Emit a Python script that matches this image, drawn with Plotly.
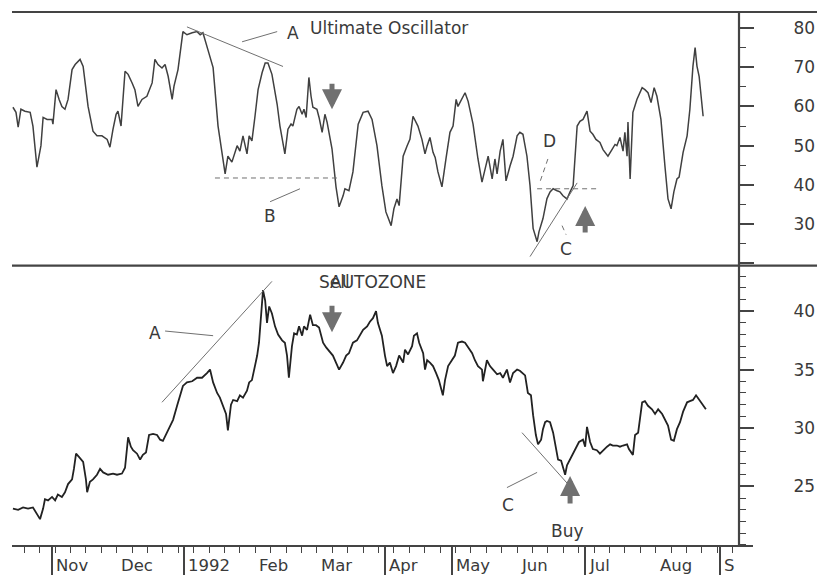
import plotly.graph_objects as go

# x = trading-day index (weekdays), 0 = 1 Nov 1991
uo_day = [-12.7, -11.7, -11.0, -10.1, -8.8, -7.1, -6.2, -4.9, -3.6, -2.9, -1.6, 0.0, 0.3, 1.3, 2.3, 3.2, 4.2, 5.2,
          6.5, 7.5, 9.1, 10.1, 11.7, 13.3, 14.6, 16.2, 17.9, 18.8, 19.8, 20.8, 21.4, 22.4, 23.7, 24.7, 26.0, 26.9,
          27.9, 29.2, 30.8, 32.5, 33.4, 34.4, 35.7, 36.7, 37.7, 39.0, 39.6, 40.9, 42.5, 43.8, 45.5, 47.1, 48.1,
          49.0, 50.6, 52.3, 53.9, 56.2, 57.1, 58.4, 60.1, 61.0, 62.0, 63.3, 64.0, 64.9, 65.9, 66.9, 68.2, 69.2,
          70.1, 71.4, 73.1, 74.0, 75.6, 76.6, 77.6, 78.2, 79.5, 80.2, 81.2, 81.8, 82.5, 83.4, 84.1, 84.7, 86.0,
          86.7, 87.7, 88.6, 89.3, 90.9, 92.2, 93.2, 94.5, 95.1, 96.4, 97.7, 99.4, 101.0, 102.6, 103.9, 105.5,
          107.1, 108.4, 110.1, 111.0, 112.0, 112.7, 114.0, 115.3, 116.2, 117.2, 118.2, 118.8, 120.1, 121.1,
          121.8, 122.7, 123.7, 124.4, 125.3, 126.6, 127.9, 129.2, 130.2, 131.2, 131.8, 133.1, 134.1, 135.1,
          136.7, 138.3, 139.6, 140.6, 141.6, 142.9, 143.8, 144.5, 145.5, 146.4, 147.4, 148.7, 149.7, 151.0,
          151.9, 152.9, 154.2, 155.2, 156.2, 157.5, 158.1, 159.4, 160.7, 161.7, 162.7, 164.0, 164.9, 165.9,
          167.2, 168.2, 169.2, 170.5, 171.4, 172.4, 173.7, 174.7, 175.6, 176.6, 177.9, 178.9, 180.5, 181.8,
          182.8, 183.4, 184.4, 185.4, 186.0, 186.7, 187.0, 187.7, 188.6, 189.9, 191.6, 192.5, 193.5, 194.5,
          195.5, 196.4, 197.7, 199.0, 200.0, 201.0, 201.9, 202.9, 203.6, 204.9, 206.2, 207.1, 208.1, 208.8,
          209.4, 210.1, 211.4]
uo_val = [59.8, 58.5, 54.7, 59.3, 58.8, 58.5, 55.0, 44.5, 50.0, 57.2, 56.7, 56.7, 55.5, 64.3, 61.8, 60.0, 59.3, 61.8,
          69.4, 70.7, 72.0, 70.2, 60.0, 53.7, 52.5, 52.5, 51.6, 49.6, 54.2, 58.0, 58.8, 55.0, 69.0, 68.2, 66.0, 64.3,
          60.0, 61.8, 62.6, 66.0, 72.0, 70.7, 69.8, 70.7, 67.7, 61.8, 65.2, 69.4, 79.1, 78.3, 78.8, 79.1, 78.3,
          78.8, 74.5, 69.9, 55.0, 42.8, 47.3, 45.8, 50.0, 48.6, 52.5, 47.9, 52.5, 51.2, 57.5, 64.3, 68.6, 71.1,
          71.1, 68.2, 60.5, 55.0, 47.9, 54.2, 55.5, 55.0, 59.3, 60.0, 58.0, 59.3, 57.2, 67.4, 62.6, 59.8, 59.3,
          57.2, 53.4, 58.0, 56.0, 49.2, 39.5, 34.4, 37.2, 39.0, 38.5, 43.3, 55.5, 58.5, 58.8, 56.7, 50.0,
          39.8, 33.1, 29.6, 33.9, 36.4, 34.7, 47.3, 50.0, 51.6, 57.5, 56.0, 55.0, 51.6, 47.9,
          50.0, 52.1, 48.3, 47.0, 43.3, 39.5, 46.6, 53.4, 55.0, 61.8, 60.0, 61.8, 63.5, 61.3,
          55.5, 46.6, 40.7, 44.0, 47.3, 41.5, 46.6, 42.8, 48.6, 51.6, 41.0, 44.8, 47.3, 52.5,
          53.4, 52.9, 47.3, 39.8, 28.9, 25.5, 28.0, 31.4, 36.5, 38.2, 39.0, 38.5, 38.2, 37.2,
          36.4, 38.2, 39.8, 55.0, 56.2, 56.7, 58.8, 53.7, 52.9, 51.6, 50.8, 49.0, 47.3, 49.0,
          50.3, 50.0, 52.1, 48.6, 53.4, 47.3, 56.0, 41.5, 58.5, 61.8, 64.8, 64.3, 63.5, 61.0,
          64.8, 62.6, 56.7, 44.8, 36.4, 33.9, 38.2, 41.5, 42.0, 48.3, 52.5, 59.3, 70.3, 75.0,
          70.3, 67.7, 57.5]

price_day = [-12.7, -11.0, -9.4, -7.8, -6.2, -4.9, -3.9, -2.9, -2.3, -1.3, 0.0, 1.0, 1.9, 3.2, 4.2, 5.2, 6.5, 7.1,
             7.8, 8.8, 10.1, 11.0, 11.4, 12.3, 13.3, 14.6, 15.6, 16.6, 18.2, 19.8, 21.1, 22.7, 23.7, 24.7, 25.6,
             26.3, 27.6, 28.6, 29.5, 30.5, 31.5, 32.8, 34.1, 35.1, 36.0, 37.3, 38.3, 39.3, 40.6, 41.6, 42.5, 43.8,
             45.5, 47.1, 48.7, 50.3, 51.3, 52.3, 53.6, 54.5, 55.5, 56.5, 57.1, 58.1, 58.8, 60.1, 61.0, 62.0, 63.3,
             64.0, 64.9, 65.6, 66.6, 67.2, 67.9, 68.5, 69.2, 69.8, 70.5, 71.4, 72.4, 73.4, 74.7, 75.6, 76.3, 76.9,
             77.9, 78.6, 79.5, 80.2, 81.2, 81.8, 82.8, 83.8, 84.7, 85.7, 86.7, 88.0, 89.0, 89.9, 91.2, 92.2, 93.2,
             94.5, 95.5, 96.4, 97.7, 99.0, 100.0, 101.0, 102.3, 103.2, 104.2, 105.2, 105.8, 107.1, 108.1, 108.8,
             109.7, 110.7, 111.7, 112.7, 114.0, 114.6, 115.6, 116.9, 117.5, 118.5, 119.2, 120.5, 121.1, 121.8,
             122.7, 123.7, 124.7, 125.6, 126.9, 127.6, 128.6, 129.9, 130.8, 131.8, 133.1, 134.1, 135.1, 136.4,
             137.3, 138.3, 139.6, 139.9, 141.2, 142.2, 143.2, 144.5, 145.5, 146.4, 147.7, 148.7, 149.7, 151.0,
             151.9, 153.6, 154.5, 155.5, 156.2, 157.1, 157.8, 158.8, 159.4, 160.1, 160.7, 161.7, 162.7, 163.6,
             164.3, 165.3, 165.9, 166.6, 167.2, 168.2, 169.2, 170.5, 171.1, 172.4, 173.1, 173.7, 174.7, 175.6,
             176.9, 177.9, 178.9, 180.2, 181.2, 182.1, 183.4, 184.4, 185.4, 186.7, 187.3, 188.6, 189.3, 190.3,
             191.6, 192.5, 193.5, 194.8, 195.8, 196.8, 198.1, 199.0, 200.0, 201.0, 201.9, 202.9, 203.9, 204.9,
             206.2, 207.1, 208.1, 209.1, 210.1, 211.4, 212.3]
price_val = [23.1, 23.0, 23.2, 23.1, 23.2, 22.6, 22.2, 23.1, 23.9, 23.8, 24.1, 23.8, 24.3, 24.1, 24.5, 25.2, 25.6, 26.5,
             27.8, 27.5, 27.1, 25.6, 24.5, 25.4, 25.6, 26.0, 26.5, 26.2, 26.0, 26.1, 26.0, 26.1, 26.6, 29.2, 28.4,
             28.1, 27.8, 27.3, 27.7, 27.9, 29.4, 29.5, 29.4, 29.0, 28.9, 29.6, 30.2, 30.7, 31.9, 32.9, 33.6, 33.9,
             34.0, 34.3, 34.3, 34.7, 35.0, 33.9, 33.0, 32.6, 31.9, 31.2, 29.8, 32.0, 32.4, 32.3, 32.8, 32.6, 33.2,
             33.9, 34.1, 35.0, 36.2, 37.3, 39.8, 41.8, 40.9, 39.0, 40.4, 39.8, 38.7, 38.0, 37.5, 37.3, 36.2, 34.3,
             37.0, 38.1, 38.0, 38.7, 37.9, 38.7, 38.4, 39.7, 38.8, 38.8, 38.6, 37.3, 36.9, 36.6, 36.2, 35.6, 35.0,
             35.6, 36.2, 36.4, 37.3, 37.5, 37.9, 38.4, 38.7, 39.1, 39.4, 40.0, 39.0, 37.9, 36.2, 35.3,
             35.6, 34.7, 35.3, 36.2, 35.6, 36.7, 36.3, 37.0, 37.9, 38.1, 37.3, 36.4, 35.0, 35.8,
             35.6, 35.3, 34.7, 34.1, 32.8, 34.1, 35.3, 35.8, 36.2, 37.3, 37.4, 37.3, 36.9, 36.4,
             35.8, 35.3, 35.0, 34.0, 35.8, 35.3, 35.0, 34.6, 34.7, 34.3, 35.0, 33.9, 34.7, 35.0,
             34.9, 34.5, 33.0, 32.8, 31.1, 29.4, 28.6, 29.0, 29.9, 30.5, 30.6, 30.5, 29.6, 28.4,
             27.3, 27.2, 26.6, 26.0, 26.8, 27.3, 27.8, 28.4, 28.8, 29.0, 28.4, 30.1, 28.8, 28.2,
             28.1, 27.8, 28.1, 28.4, 28.6, 28.5, 28.5, 28.4, 28.5, 28.6, 28.2, 27.7, 29.4, 29.6,
             32.2, 32.3, 31.9, 31.6, 31.2, 31.6, 31.2, 30.7, 30.2, 29.0, 28.9, 29.9, 30.5, 31.4,
             32.2, 32.3, 32.4, 32.8, 32.4, 31.9, 31.6]

month_days = [0, 21, 43, 66, 86, 108, 130, 151, 173, 196, 217]
month_labels = ["Nov", "Dec", "1992", "Feb", "Mar", "Apr", "May", "Jun", "Jul", "Aug", "S"]
uo_ticks = [20, 30, 40, 50, 60, 70, 80]
uo_tick_labels = ["", "30", "40", "50", "60", "70", "80"]
price_ticks = [25, 30, 35, 40]
price_tick_labels = ["25", "30", "35", "40"]

INK = "#3a3a3a"
AX = "#444444"
GR = "#707070"
FONT = "DejaVu Sans"
SPLIT = 0.5251

fig = go.Figure()
fig.add_trace(go.Scatter(x=uo_day, y=uo_val, yaxis="y2", mode="lines",
                         line=dict(color="#404040", width=1.5), showlegend=False))
fig.add_trace(go.Scatter(x=price_day, y=price_val, yaxis="y", mode="lines",
                         line=dict(color="#222222", width=1.8), showlegend=False))

yax = dict(side="right", anchor="x", showgrid=False, zeroline=False, showline=False,
           ticks="outside", ticklen=14, tickwidth=1.5, tickcolor=AX,
           tickfont=dict(family=FONT, size=17, color=INK), ticklabelstandoff=36,
           tickmode="array")

# page body has an 8px default margin: figure is offset by 8px
fig.update_layout(
    width=817, height=570,
    margin=dict(l=4, r=86, t=4, b=29),
    paper_bgcolor="white", plot_bgcolor="white",
    showlegend=False,
    xaxis=dict(domain=[0, 1], anchor="y", range=[-13, 223.05],
               showgrid=False, zeroline=False, showline=False,
               tickmode="array", tickvals=month_days, ticktext=[""] * len(month_days),
               ticks="outside", ticklen=28, tickwidth=1.8, tickcolor=AX, showticklabels=False,
               minor=dict(ticks="outside", ticklen=6, tickwidth=1.2, tickcolor=AX,
                          tickmode="linear", tick0=1, dtick=5)),
    yaxis=dict(domain=[0, SPLIT], range=[19.9, 43.9], tickvals=price_ticks, ticktext=price_tick_labels,
               minor=dict(ticks="outside", ticklen=6, tickwidth=1.2, tickcolor=AX,
                          tickmode="linear", tick0=0, dtick=1), **yax),
    yaxis2=dict(domain=[SPLIT, 1], range=[19.4, 84.1], tickvals=uo_ticks, ticktext=uo_tick_labels,
                minor=dict(ticks="outside", ticklen=6, tickwidth=1.2, tickcolor=AX,
                           tickmode="linear", tick0=0, dtick=5), **yax),
)

# frame lines
frame = [
    dict(x0=0, x1=(825 - 12) / 727, y0=1, y1=1),
    dict(x0=0, x1=(825 - 12) / 727, y0=SPLIT, y1=SPLIT),
    dict(x0=1, x1=1, y0=0, y1=1),
    dict(x0=0, x1=(753 - 12) / 727, y0=0, y1=0),
]
for f in frame:
    fig.add_shape(type="line", xref="paper", yref="paper", line=dict(color=AX, width=2.2), **f)

def seg(x0, y0, x1, y1, yref, dash=None):
    fig.add_shape(type="line", xref="x", yref=yref, x0=x0, y0=y0, x1=x1, y1=y1,
                  line=dict(color=GR, width=1, dash=dash))

DASH = "5px,4px"
# top panel
seg(43.8, 80.3, 75.0, 70.2, "y2")
seg(61.7, 76.5, 73.1, 79.1, "y2")
seg(52.9, 41.75, 92.5, 41.75, "y2", DASH)
seg(70.8, 35.7, 80.5, 39.0, "y2")
seg(161.0, 46.6, 158.4, 40.7, "y2", DASH)
seg(157.5, 39.0, 177.0, 39.0, "y2", DASH)
seg(155.2, 21.7, 170.5, 40.5, "y2")
seg(165.6, 29.6, 166.9, 27.3, "y2", DASH)
# bottom panel
seg(35.7, 32.2, 71.4, 42.55, "y")
seg(36.7, 38.3, 52.3, 37.9, "y")
seg(152.6, 29.6, 167.5, 25.2, "y")
seg(147.7, 24.9, 157.5, 26.2, "y")

def txt(x, y, s, yref, anchor="center", size=17):
    fig.add_annotation(x=x, y=y, xref="x", yref=yref, text=s, showarrow=False,
                       xanchor=anchor, yanchor="middle",
                       font=dict(family=FONT, size=size, color=INK))

txt(78.2, 78.8, "A", "y2")
txt(83.1, 80.1, "Ultimate Oscillator", "y2", "left")
txt(70.8, 32.1, "B", "y2")
txt(161.4, 51.1, "D", "y2")
txt(166.9, 23.7, "C", "y2")
txt(86.0, 42.5, "Sell", "y", "left")
txt(89.6, 42.5, "AUTOZONE", "y", "left")
txt(33.4, 38.1, "A", "y")
txt(148.1, 23.4, "C", "y")
txt(167.5, 21.2, "Buy", "y")

def arrow(x, y, yref, ay):
    fig.add_annotation(x=x, y=y, xref="x", yref=yref, ax=0, ay=ay, text="", showarrow=True,
                       arrowhead=2, arrowsize=0.8, arrowwidth=5, arrowcolor=GR)

arrow(90.9, 59.3, "y2", -27)
arrow(173.1, 34.6, "y2", 28)
arrow(90.9, 38.2, "y", -28)
arrow(168.2, 25.9, "y", 29)

for d, lab in zip(month_days, month_labels):
    fig.add_annotation(x=d, y=0, xref="x", yref="paper", text=lab, showarrow=False,
                       xanchor="left", yanchor="middle", xshift=2, yshift=-19,
                       font=dict(family=FONT, size=16.5, color=INK))

fig.write_html("out.html")
